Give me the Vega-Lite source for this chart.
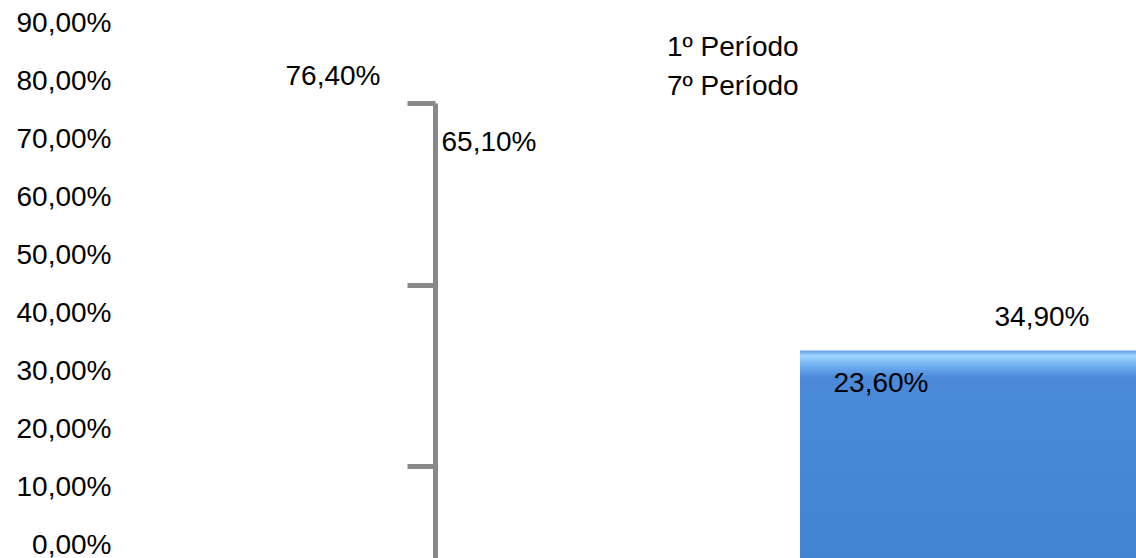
{
  "$schema": "https://vega.github.io/schema/vega-lite/v6.json",
  "width": 1016,
  "height": 535,
  "autosize": {"type": "none"},
  "padding": {"left": 120, "top": 23, "right": 0, "bottom": 0},
  "background": "white",
  "config": {
    "view": {"stroke": null},
    "font": "Liberation Sans",
    "locale": {"number": {"decimal": ",", "thousands": ".", "grouping": [3], "currency": ["R$ ", ""], "percent": "%"}}
  },
  "data": {
    "values": [
      {"Grupo": "Grupo A", "Período": "1º Período", "Percentual": 0.764},
      {"Grupo": "Grupo A", "Período": "7º Período", "Percentual": 0.651},
      {"Grupo": "Grupo B", "Período": "1º Período", "Percentual": 0.349},
      {"Grupo": "Grupo B", "Período": "7º Período", "Percentual": 0.236}
    ]
  },
  "layer": [
    {
      "transform": [{"filter": "datum['Período'] === '1º Período' && datum.Grupo === 'Grupo B'"}],
      "mark": {
        "type": "bar",
        "fill": {
          "gradient": "linear",
          "x1": 0, "y1": 0, "x2": 0, "y2": 1,
          "stops": [
            {"offset": 0, "color": "#5d9de6"},
            {"offset": 0.025, "color": "#9fd4fc"},
            {"offset": 0.07, "color": "#72b1f2"},
            {"offset": 0.13, "color": "#4a8ad9"},
            {"offset": 1, "color": "#4283d4"}
          ]
        }
      },
      "encoding": {
        "x": {
          "field": "Grupo",
          "type": "nominal",
          "axis": null,
          "scale": {"domain": ["Grupo A", "Grupo B"], "range": [-29, 1164], "paddingInner": 0.31735, "paddingOuter": 0}
        },
        "y": {"field": "Percentual", "type": "quantitative", "scale": {"domain": [0, 0.9], "nice": false}, "axis": null}
      }
    },
    {
      "encoding": {
        "x": {"field": "Grupo", "type": "nominal", "axis": null},
        "y": {
          "field": "Percentual",
          "type": "quantitative",
          "scale": {"domain": [-0.0207, 0.9], "nice": false, "zero": false},
          "axis": {
            "orient": "left",
            "values": [0, 0.1, 0.2, 0.3, 0.4, 0.5, 0.6, 0.7, 0.8, 0.9],
            "format": ".2%",
            "domain": false,
            "ticks": false,
            "grid": false,
            "title": null,
            "labelFont": "Liberation Sans",
            "labelFontSize": 28,
            "labelColor": "#000000",
            "labelPadding": 9
          }
        },
        "text": {"field": "Percentual", "type": "quantitative", "format": ".2%"},
        "color": {
          "field": "Período",
          "type": "nominal",
          "scale": {"domain": ["1º Período", "7º Período"], "range": ["#000000", "#000000"]},
          "legend": {
            "orient": "none",
            "legendX": 519,
            "legendY": 11,
            "title": null,
            "padding": 0,
            "symbolType": "circle",
            "symbolSize": 0,
            "symbolOpacity": 0,
            "symbolStrokeWidth": 0,
            "labelOffset": 0,
            "labelFont": "Liberation Sans",
            "labelFontSize": 28,
            "labelColor": "#000000",
            "rowPadding": 11
          }
        }
      },
      "layer": [
        {
          "transform": [{"filter": "datum['Período'] === '1º Período'"}],
          "mark": {"type": "text", "font": "Liberation Sans", "fontSize": 28, "baseline": "middle", "align": "center", "dy": -25}
        },
        {
          "transform": [{"filter": "datum['Período'] === '7º Período' && datum.Grupo === 'Grupo A'"}],
          "mark": {"type": "text", "font": "Liberation Sans", "fontSize": 28, "baseline": "middle", "align": "center", "dy": -25, "dx": 156}
        },
        {
          "transform": [{"filter": "datum['Período'] === '7º Período' && datum.Grupo === 'Grupo B'"}],
          "mark": {"type": "text", "font": "Liberation Sans", "fontSize": 28, "baseline": "middle", "align": "center", "dy": -25, "dx": -161}
        }
      ]
    },
    {
      "mark": {"type": "rule", "strokeOpacity": 0},
      "encoding": {
        "y": {
          "datum": 0,
          "type": "quantitative",
          "scale": {"domain": [0, 3], "range": [625, 80], "nice": false, "zero": false},
          "axis": {
            "orient": "left",
            "offset": -315,
            "values": [0, 1, 2, 3],
            "labels": false,
            "grid": false,
            "title": null,
            "domainColor": "#898989",
            "domainWidth": 5,
            "domainCap": "butt",
            "tickColor": "#898989",
            "tickWidth": 5,
            "tickSize": 28
          }
        }
      }
    }
  ],
  "resolve": {"scale": {"y": "independent"}, "axis": {"y": "independent"}}
}
